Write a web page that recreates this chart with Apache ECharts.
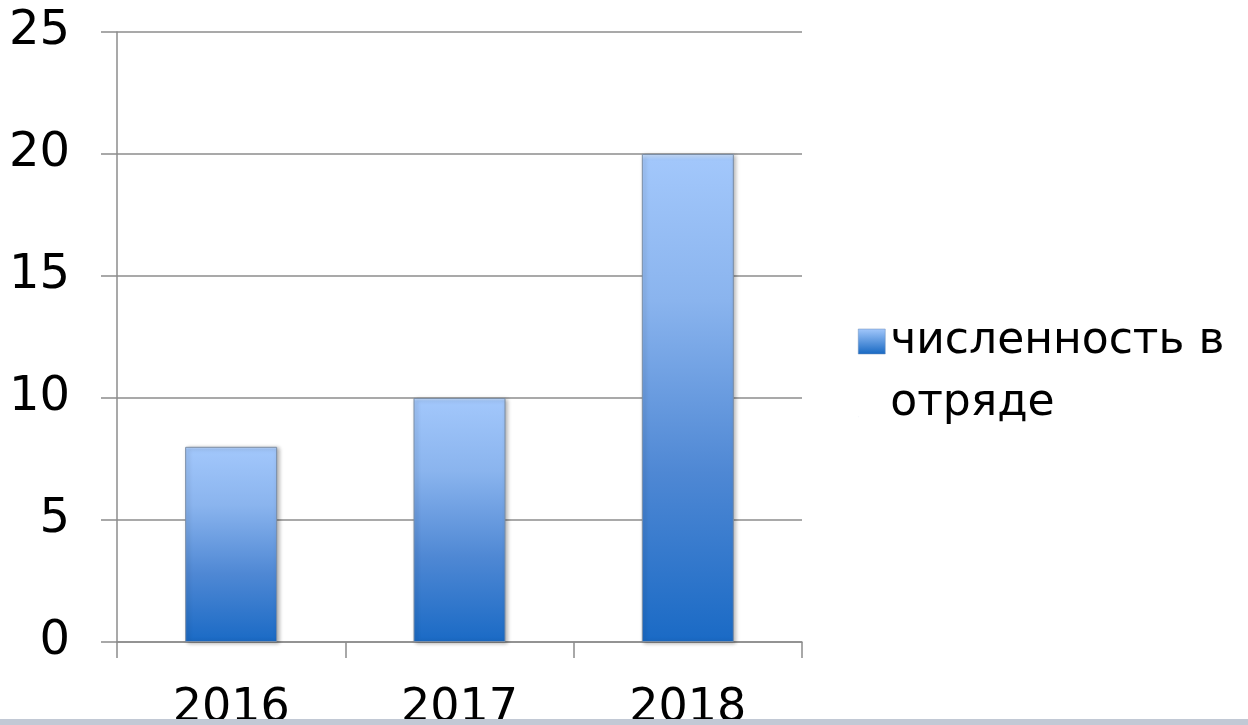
<!DOCTYPE html>
<html>
<head>
<meta charset="utf-8">
<script src="https://cdn.jsdelivr.net/npm/echarts@6/dist/echarts.min.js"></script>
<style>html,body{margin:0;padding:0;background:#fff}#c{width:1248px;height:725px}</style>
</head>
<body>
<div id="c"></div>
<script>
const categories = ['2016', '2017', '2018'];
const seriesName = 'численность в отряде';
const values = [8, 10, 20];
const yTicks = [0, 5, 10, 15, 20, 25];

const chart = echarts.init(document.getElementById('c'));
const barGrad = new echarts.graphic.LinearGradient(0, 0, 0, 1, [
  {offset: 0, color: '#cfe4ff'},
  {offset: 0.012, color: '#a2c7fb'},
  {offset: 0.3, color: '#8ab4ee'},
  {offset: 0.65, color: '#4f88d4'},
  {offset: 1, color: '#1a6ac5'}
]);
const iconGrad = new echarts.graphic.LinearGradient(0, 0, 0, 1, [
  {offset: 0, color: '#a2c7fb'},
  {offset: 0.28, color: '#1b6bc4'},
  {offset: 1, color: '#1b6bc4'}
]);
chart.setOption({
  animation: false,
  grid: {left: 117, right: 446, top: 32, bottom: 83, containLabel: false, outerBoundsMode: 'none'},
  legend: {
    orient: 'vertical',
    left: 853,
    top: 306,
    itemWidth: 27,
    itemHeight: 88,
    itemGap: 10,
    icon: 'path://M0,0H27V25H0Z M0,88H0.05V87.95Z',
    itemStyle: {color: iconGrad, borderColor: '#6d8fb8', borderWidth: 0.5},
    formatter: function (n) { return n.replace('в отряде', 'в\nотряде'); },
    textStyle: {fontFamily: 'DejaVu Sans', fontSize: 44, color: '#000', lineHeight: 62},
    data: [seriesName]
  },
  xAxis: {
    type: 'category',
    data: categories,
    axisLine: {show: true, lineStyle: {color: '#8c8c8c', width: 1.5}},
    axisTick: {show: true, length: 16, lineStyle: {color: '#8c8c8c', width: 1.5}},
    axisLabel: {margin: 44, fontFamily: 'DejaVu Sans', fontSize: 46, color: '#000'}
  },
  yAxis: {
    type: 'value',
    min: yTicks[0],
    max: yTicks[yTicks.length - 1],
    interval: 5,
    axisLine: {show: true, lineStyle: {color: '#8c8c8c', width: 1.5}},
    axisTick: {show: true, length: 16, lineStyle: {color: '#8c8c8c', width: 1.5}},
    splitLine: {show: true, lineStyle: {color: '#8c8c8c', width: 1.5}},
    axisLabel: {margin: 47, fontFamily: 'DejaVu Sans', fontSize: 48, color: '#000'}
  },
  series: [{
    name: seriesName,
    type: 'bar',
    data: values,
    barWidth: 92,
    itemStyle: {
      color: barGrad,
      borderColor: '#7b8ea6',
      borderWidth: 1,
      shadowColor: 'rgba(0,0,0,0.3)',
      shadowBlur: 4,
      shadowOffsetX: 2,
      shadowOffsetY: 1
    }
  }],
  graphic: [{
    type: 'rect',
    left: 0,
    top: 719,
    shape: {width: 1248, height: 6},
    style: {fill: '#c2c9d5'},
    z: 100
  }]
});
</script>
</body>
</html>
